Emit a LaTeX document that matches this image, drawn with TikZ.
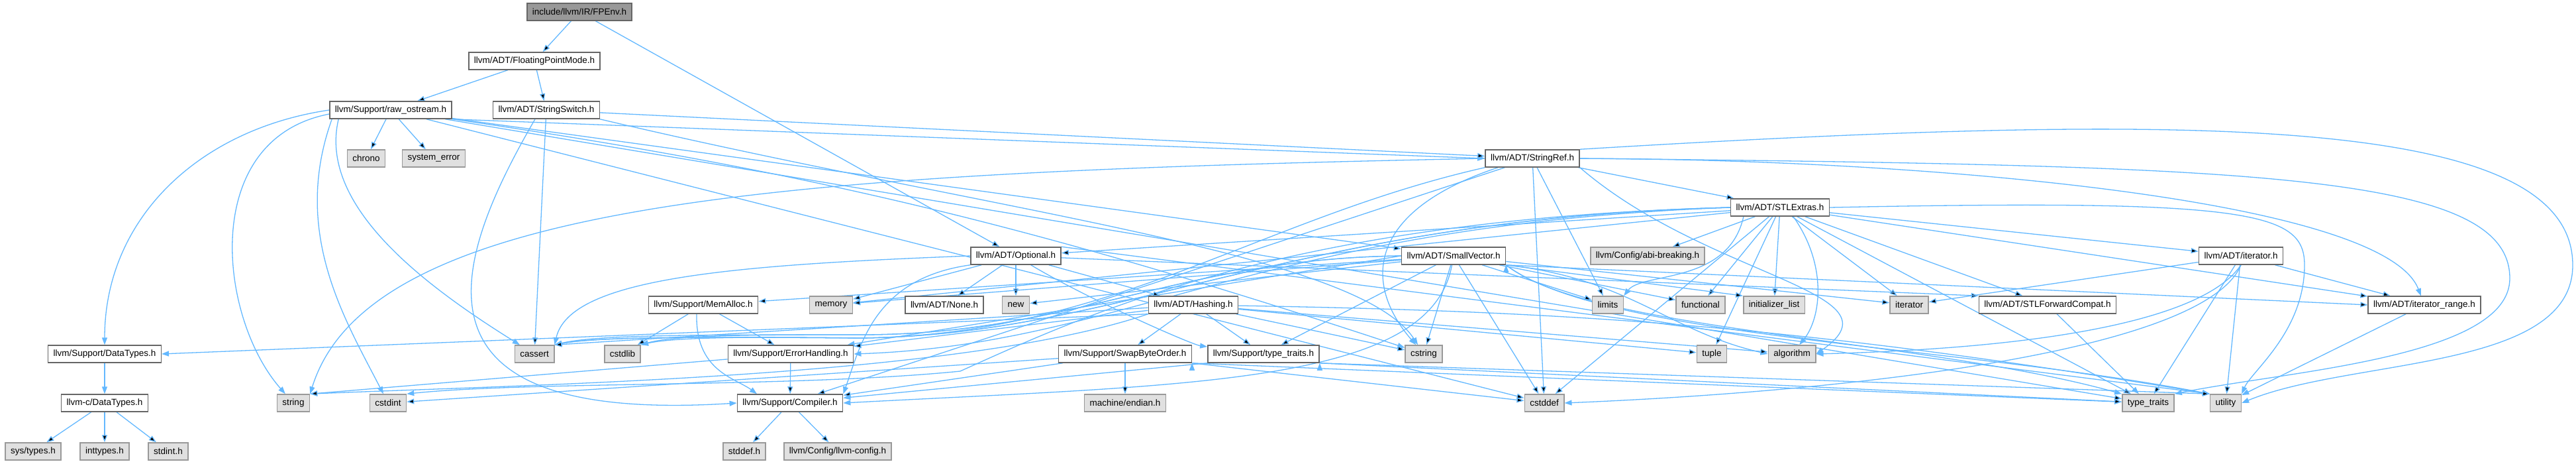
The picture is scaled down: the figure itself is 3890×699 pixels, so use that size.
\documentclass[tikz,border=0pt]{standalone}
\usepackage{fontspec}
\setmainfont{Liberation Sans}
\usetikzlibrary{arrows.meta,backgrounds}
\definecolor{edgeblue}{HTML}{63B8FF}
\definecolor{rootfill}{HTML}{999999}
\definecolor{boxline}{HTML}{666666}
\definecolor{sysfill}{HTML}{E0E0E0}
\definecolor{sysline}{HTML}{999999}
\tikzset{
  hdrbox/.style={draw=boxline, fill=white, line width=1.5pt,
    font=\fontsize{13.5}{15}\selectfont, inner xsep=8pt, inner ysep=0pt,
    minimum height=26pt},
  rootbox/.style={hdrbox, fill=rootfill},
  sysbox/.style={hdrbox, draw=sysline, fill=sysfill},
  incl/.style={-{Triangle[length=11pt,width=8pt]}, draw=edgeblue,
    line width=1.3pt},
}

\begin{document}
\begin{tikzpicture}[x=1pt, y=-1pt]
\useasboundingbox (0,0) rectangle (3890,699);

%% Project headers
\node[rootbox] (fpenv)     at (875, 18)  {include/llvm/IR/FPEnv.h};
\node[hdrbox]  (fpmode)    at (807, 92)  {llvm/ADT/FloatingPointMode.h};
\node[hdrbox]  (rawos)     at (590, 166) {llvm/Support/raw\_ostream.h};
\node[hdrbox]  (sswitch)   at (825, 166) {llvm/ADT/StringSwitch.h};
\node[hdrbox]  (stringref) at (2314, 239) {llvm/ADT/StringRef.h};
\node[hdrbox]  (stlextras) at (2688, 313) {llvm/ADT/STLExtras.h};
\node[hdrbox]  (optional)  at (1534, 386) {llvm/ADT/Optional.h};
\node[hdrbox]  (smallvec)  at (2195, 386) {llvm/ADT/SmallVector.h};
\node[hdrbox]  (iter)      at (3384, 386) {llvm/ADT/iterator.h};
\node[hdrbox]  (memalloc)  at (1062, 460) {llvm/Support/MemAlloc.h};
\node[hdrbox]  (none)      at (1426, 460) {llvm/ADT/None.h};
\node[hdrbox]  (hashing)   at (1802, 460) {llvm/ADT/Hashing.h};
\node[hdrbox]  (stlfwd)    at (3092, 460) {llvm/ADT/STLForwardCompat.h};
\node[hdrbox]  (iterrange) at (3661, 460) {llvm/ADT/iterator\_range.h};
\node[hdrbox]  (sdatatypes) at (158, 534) {llvm/Support/DataTypes.h};
\node[hdrbox]  (errh)      at (1194, 534) {llvm/Support/ErrorHandling.h};
\node[hdrbox]  (swapbo)    at (1699, 534) {llvm/Support/SwapByteOrder.h};
\node[hdrbox]  (stypetr)   at (1908, 534) {llvm/Support/type\_traits.h};
\node[hdrbox]  (cdatatypes) at (158, 608) {llvm-c/DataTypes.h};
\node[hdrbox]  (compiler)  at (1193, 608) {llvm/Support/Compiler.h};

%% System headers
\node[sysbox] (chrono)     at (553, 239)  {chrono};
\node[sysbox] (syserr)     at (655, 239)  {system\_error};
\node[sysbox] (abibrk)     at (2488, 386) {llvm/Config/abi-breaking.h};
\node[sysbox] (memory)     at (1255, 460) {memory};
\node[sysbox] (new)        at (1534, 460) {new};
\node[sysbox] (limits)     at (2428, 460) {limits};
\node[sysbox] (functional) at (2568, 460) {functional};
\node[sysbox] (initlist)   at (2679, 460) {initializer\_list};
\node[sysbox] (iterator)   at (2883, 460) {iterator};
\node[sysbox] (cassert)    at (807, 534)  {cassert};
\node[sysbox] (cstdlib)    at (940, 534)  {cstdlib};
\node[sysbox] (cstring)    at (2150, 534) {cstring};
\node[sysbox] (tuple)      at (2585, 534) {tuple};
\node[sysbox] (algorithm)  at (2706, 534) {algorithm};
\node[sysbox] (string)     at (443, 608)  {string};
\node[sysbox] (cstdint)    at (586, 608)  {cstdint};
\node[sysbox] (endian)     at (1699, 608) {machine/endian.h};
\node[sysbox] (cstddef)    at (2332, 608) {cstddef};
\node[sysbox] (typetraits) at (3244, 608) {type\_traits};
\node[sysbox] (utility)    at (3361, 608) {utility};
\node[sysbox] (systypes)   at (50, 681)   {sys/types.h};
\node[sysbox] (inttypes)   at (158, 681)  {inttypes.h};
\node[sysbox] (stdint)     at (254, 681)  {stdint.h};
\node[sysbox] (stddef)     at (1124, 681) {stddef.h};
\node[sysbox] (llvmconfig) at (1265, 681) {llvm/Config/llvm-config.h};

\begin{scope}[on background layer]
%% FPEnv.h, FloatingPointMode.h
\draw[incl] (fpenv) edge (fpmode) edge (optional);
\draw[incl] (fpmode) edge (rawos) edge (sswitch);

%% raw_ostream.h
\draw[incl] (rawos) edge (chrono) edge (syserr) edge (smallvec)
  edge (cstddef) edge (typetraits);
\draw[incl] (rawos) .. controls (1208,256) and (1556,338) .. (cstring);
\draw[incl] (rawos.south east) -- (stringref.west);
\draw[incl] (rawos.west) .. controls (300,195) and (158,330) .. (sdatatypes);
\draw[incl] ([yshift=-6pt]rawos.west) .. controls (300,210) and (330,480) .. (string);
\draw[incl] ([xshift=4pt]rawos.south west) .. controls (440,350) and (520,480) .. (cstdint);
\draw[incl] ([xshift=14pt]rawos.south west) .. controls (480,310) and (640,430) .. (cassert);

%% StringSwitch.h
\draw[incl] (sswitch) edge (stringref) edge (cassert);
\draw[incl] ([xshift=-17pt]sswitch.south) .. controls (680,400) and (600,640) .. (compiler.west);
\draw[incl] (sswitch.south east) .. controls (1500,320) and (2050,380) .. (cstring);

%% StringRef.h
\draw[incl] (stringref) edge (stlextras) edge (compiler) edge (cstddef)
  edge (limits);
\draw[incl] (stringref) .. controls (2900,240) and (3600,300) .. (iterrange);
\draw[incl] (stringref.south west) .. controls (1900,330) and (1680,505) .. (1300,510)
  .. controls (1050,508) and (900,508) .. (cassert.north east);
\draw[incl] (stringref.west) .. controls (1200,260) and (560,300) .. (string.north east);
\draw[incl] ([xshift=-52pt]stringref.south) .. controls (2060,320) and (2060,430) .. (cstring);
\draw[incl] (stringref.south east) .. controls (2580,420) and (2880,440) .. (algorithm.east);
\draw[incl] (stringref.north east) .. controls (3300,170) and (3885,170) .. (3885,400)
  .. controls (3885,560) and (3550,540) .. (utility.east);
\draw[incl] (stringref.east) .. controls (3400,250) and (3790,260) .. (3790,420)
  .. controls (3790,540) and (3450,560) .. (typetraits.north east);

%% STLExtras.h
\draw[incl] (stlextras) edge (optional) edge (stlfwd) edge (iter)
  edge (iterrange) edge (abibrk) edge (functional) edge (initlist)
  edge (iterator) edge (memory) edge (tuple) edge (typetraits)
  edge (cstddef);
\draw[incl] ([xshift=20pt]stlextras.south) .. controls (2760,400) and (2750,480) .. (algorithm);
\draw[incl] ([xshift=20pt]stlextras.south west) .. controls (2610,430) and (2480,410) .. (limits.north east);
\draw[incl] (stlextras.west) .. controls (1900,340) and (1700,520) .. (errh.east);
\draw[incl] (stlextras.west) .. controls (1950,330) and (1700,505) .. (1300,510)
  .. controls (1050,508) and (900,508) .. (cassert.north east);
\draw[incl] (stlextras.west) .. controls (1950,330) and (1700,505) .. (1300,510)
  .. controls (1150,508) and (1020,508) .. (cstdlib.north east);
\draw[incl] (stlextras.west) .. controls (1950,330) and (1650,470) .. (1450,560)
  .. controls (1200,585) and (800,575) .. (cstdint.north east);
\draw[incl] (stlextras.east) .. controls (3400,300) and (3480,320) .. (3480,400)
  .. controls (3480,500) and (3400,560) .. (utility.north east);

%% Optional.h
\draw[incl] (optional) edge (hashing) edge (none) edge (new) edge (memory)
  edge (stlfwd.north west);
\draw[incl] (optional) .. controls (1640,450) and (1800,520) .. (stypetr);
\draw[incl] (optional.north east) -- (utility.north west);
\draw[incl] (optional.south west) .. controls (1320,420) and (1300,520) .. (compiler.north east);
\draw[incl] (optional.west) .. controls (1100,400) and (860,420) .. (cassert.north east);

%% SmallVector.h
\draw[incl] (smallvec) edge (memalloc) edge (stypetr) edge (cstddef)
  edge (cstring) edge (functional) edge (iterator) edge (limits)
  edge (memory) edge (new);
\draw[incl] (smallvec) .. controls (2160,580) and (1800,580) .. (compiler.east);
\draw[incl] (smallvec.west) -- (errh);
\draw[incl] (smallvec.south east) edge (iterrange.west) edge (initlist.north west);
\draw[incl] (smallvec.south east) .. controls (2460,420) and (2520,500) .. (algorithm.west);
\draw[incl] (smallvec.south east) .. controls (2400,500) and (2900,510) .. (typetraits.north west);
\draw[incl] (smallvec.south east) .. controls (2420,510) and (2950,520) .. (utility.north west);
\draw[incl] (smallvec.west) .. controls (1780,390) and (1620,505) .. (1300,505)
  .. controls (1050,505) and (900,505) .. (cassert.north east);
\draw[incl] (smallvec.west) .. controls (1780,390) and (1620,505) .. (1300,505)
  .. controls (1150,505) and (1020,505) .. (cstdlib.north east);

%% Hashing.h
\draw[incl] (hashing) edge (errh) edge (swapbo) edge (stypetr) edge (cstring)
  edge (tuple) edge (algorithm) edge (cassert.north east);
\draw[incl] (hashing) .. controls (2403,470) and (2740,495) .. (utility.north west);
\draw[incl] (hashing.south west) -- (sdatatypes.east);
\draw[incl] (hashing.south west) .. controls (1450,570) and (800,580) .. (string.north east);

%% iterator.h, iterator_range.h, STLForwardCompat.h
\draw[incl] (iter) edge (iterrange) edge (iterator) edge (typetraits) edge (utility);
\draw[incl] (iter.south) .. controls (3330,480) and (3100,525) .. (algorithm.east);
\draw[incl] (iter.south) .. controls (3330,530) and (2800,590) .. (cstddef.east);
\draw[incl] (iterrange) -- (utility);
\draw[incl] (stlfwd) -- (typetraits);

%% Support headers
\draw[incl] (memalloc) edge (errh) edge (cstdlib);
\draw[incl] ([xshift=-10pt]memalloc.south) .. controls (1050,560) and (1110,570) .. ([xshift=-50pt]compiler.north);
\draw[incl] (errh) edge (compiler) edge (string.north east);
\draw[incl] (swapbo) edge (compiler) edge (endian) edge (cstdint);
\draw[incl] (swapbo.south east) edge (cstddef) edge (typetraits);
\draw[incl] (stypetr.south west) -- (compiler);
\draw[incl] (stypetr.south east) edge (typetraits) edge (utility.north west);
\draw[incl] (compiler) edge (stddef) edge (llvmconfig);
\draw[incl] (sdatatypes) -- (cdatatypes);
\draw[incl] (cdatatypes) edge (systypes) edge (inttypes) edge (stdint);
\end{scope}
\end{tikzpicture}
\end{document}
